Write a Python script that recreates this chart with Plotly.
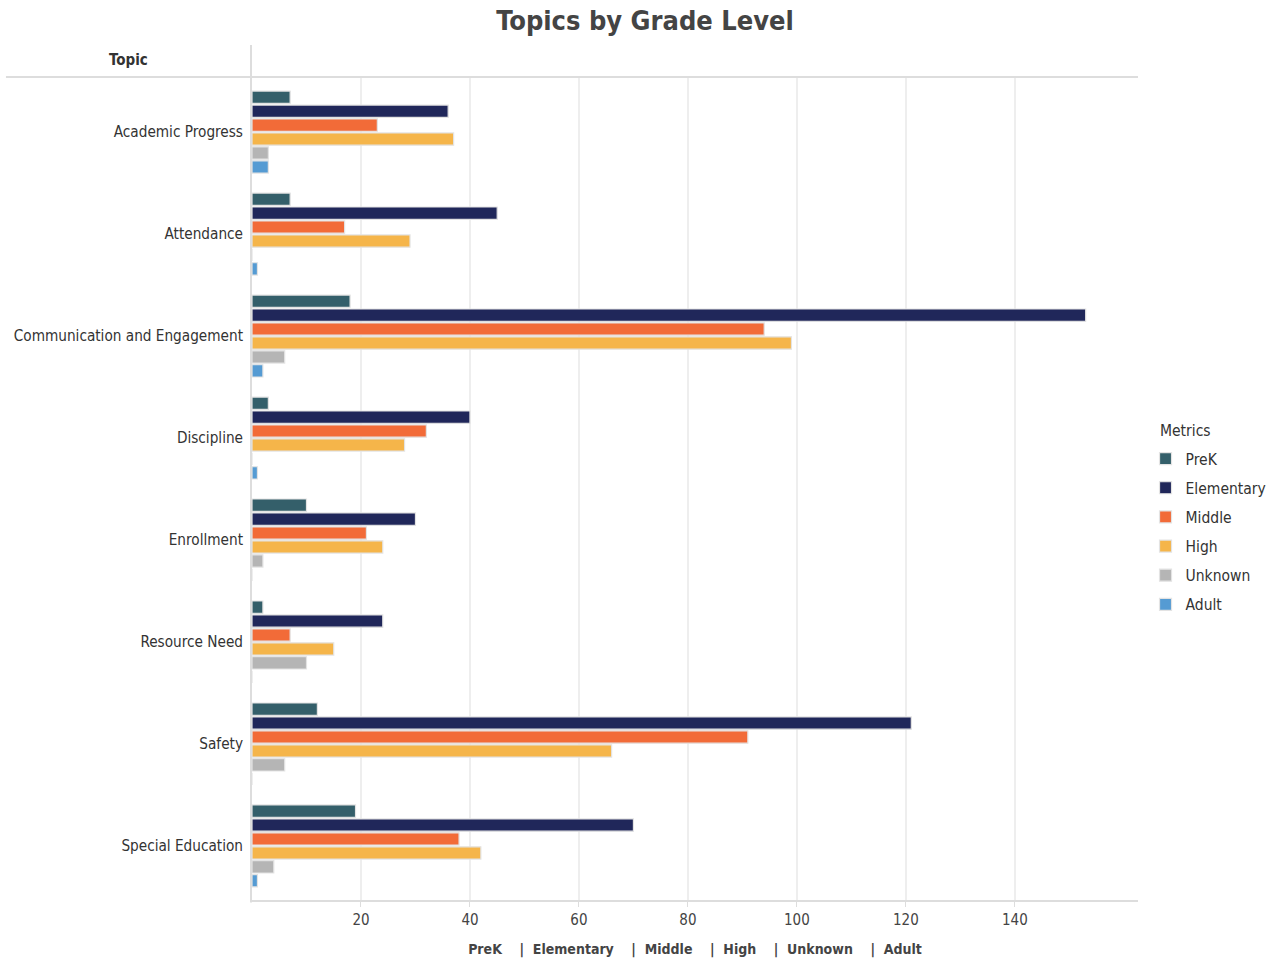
import plotly.graph_objects as go

topics = [
    "Academic Progress",
    "Attendance",
    "Communication and Engagement",
    "Discipline",
    "Enrollment",
    "Resource Need",
    "Safety",
    "Special Education",
]

prek = [7, 7, 18, 3, 10, 2, 12, 19]
elementary = [36, 45, 153, 40, 30, 24, 121, 70]
middle = [23, 17, 94, 32, 21, 7, 91, 38]
high = [37, 29, 99, 28, 24, 15, 66, 42]
unknown = [3, 0, 6, 0, 2, 10, 6, 4]
adult = [3, 1, 2, 1, 0, 0, 0, 1]

series_names = ["PreK", "Elementary", "Middle", "High", "Unknown", "Adult"]
series_values = [prek, elementary, middle, high, unknown, adult]
series_colors = ["#345F6A", "#20275A", "#F26B38", "#F5B54A", "#B5B5B5", "#559BD3"]

FONT = "DejaVu Sans Condensed, DejaVu Sans"
TEXT = "#333333"

fig = go.Figure()
for name, vals, col in zip(series_names, series_values, series_colors):
    fig.add_trace(go.Bar(
        y=topics, x=vals, name=name, orientation="h", legendgroup=name,
        marker=dict(color=col, line=dict(color="#E3E3E3", width=1.2)),
    ))

fig.update_layout(
    width=1271, height=963,
    barmode="group", bargap=0.18, bargroupgap=0.12,
    paper_bgcolor="white", plot_bgcolor="white",
    margin=dict(l=252, r=133, t=77, b=63, autoexpand=False),
    font=dict(family=FONT, color=TEXT, size=14),
    title=dict(text="<b>Topics by Grade Level</b>", x=0.5075, xanchor="center",
               y=0.979, yanchor="middle", font=dict(size=27, color="#444444")),
    legend=dict(
        font=dict(size=15.5, color=TEXT),
        x=1.0085, xanchor="left", y=0.5565, yanchor="top",
        traceorder="grouped", itemclick=False, tracegroupgap=6,
    ),
    xaxis=dict(
        range=[0, 162.6], tickvals=[20, 40, 60, 80, 100, 120, 140],
        showgrid=True, gridcolor="#EEEEEE", gridwidth=2,
        showline=True, linecolor="#DDDDDD", linewidth=2,
        ticks="outside", tickcolor="#DDDDDD", ticklen=5,
        tickfont=dict(size=15, color="#444444"),
        zeroline=False,
        title=dict(text="<b>PreK    |  Elementary    |  Middle    |  High    |  Unknown    |  Adult</b>",
                   font=dict(size=14, color="#444444"), standoff=16),
    ),
    yaxis=dict(
        range=[7.53, -0.54], showgrid=False, zeroline=False,
        showline=False, ticks="", ticklabelstandoff=8,
        tickfont=dict(size=15.2, color=TEXT),
    ),
)

# legend heading
fig.add_annotation(text="Metrics", xref="paper", yref="paper",
                   x=1.0228, y=0.5704, xanchor="left", yanchor="middle",
                   showarrow=False, font=dict(size=15.5, color=TEXT))

# header row and column divider
fig.add_shape(type="line", xref="paper", yref="paper",
              x0=-0.2777, x1=1.0, y0=1.0, y1=1.0,
              line=dict(color="#DDDDDD", width=2))
fig.add_shape(type="line", xref="paper", yref="paper",
              x0=-0.0011, x1=-0.0011, y0=-0.003, y1=1.0389,
              line=dict(color="#DDDDDD", width=2))
fig.add_annotation(text="<b>Topic</b>", xref="paper", yref="paper",
                   x=-0.139, y=1.0207, xanchor="center", yanchor="middle",
                   showarrow=False, font=dict(size=15, color=TEXT))

fig.write_html("out.html")
